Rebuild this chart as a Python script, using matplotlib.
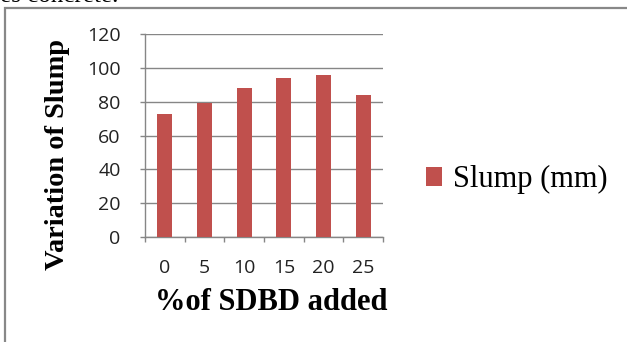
import matplotlib
matplotlib.use("Agg")
import matplotlib.pyplot as plt
import matplotlib.patches as mpatches
import numpy as np

# slump test results
sdbd_pct = ["0", "5", "10", "15", "20", "25"]
slump_mm = [73, 79, 88, 94, 96, 84]
y_ticks = [0, 20, 40, 60, 80, 100, 120]

bar_color = "#C0504D"
grid_color = "#868686"
tick_font = "Open Sans"
label_font = "Liberation Serif"

fig = plt.figure(figsize=(6.27, 3.42), dpi=100)
ax = fig.add_axes([0.2313, 0.3079, 0.3796, 0.5918])

x = np.arange(len(sdbd_pct))
ax.bar(x, slump_mm, width=0.38, color=bar_color, zorder=3, label="Slump (mm)")

ax.set_xlim(-0.5, len(sdbd_pct) - 0.5)
ax.set_ylim(0, 120)
ax.set_yticks(y_ticks)
ax.set_yticklabels([str(v) for v in y_ticks], fontfamily=tick_font, fontsize=14, color="#222222")
ax.yaxis.grid(True, color=grid_color, lw=1.0, zorder=0)

# category labels centred, tick marks on the boundaries
ax.set_xticks(np.arange(-0.5, len(sdbd_pct)), minor=False)
ax.set_xticklabels([])
ax.set_xticks(x, minor=True)
ax.set_xticklabels(sdbd_pct, minor=True, fontfamily=tick_font, fontsize=14, color="#222222")
ax.tick_params(axis="x", which="major", length=3.6, color=grid_color, width=1.0)
ax.tick_params(axis="x", which="minor", length=0, pad=16)
ax.tick_params(axis="y", length=3.6, color=grid_color, width=1.0, pad=14)

for side in ["top", "right"]:
    ax.spines[side].set_visible(False)
for side in ["left", "bottom"]:
    ax.spines[side].set_color(grid_color)
    ax.spines[side].set_linewidth(1.0)

ax.set_xlabel("%of SDBD added", fontfamily=label_font, fontweight="bold", fontsize=22, va="center")
ax.xaxis.set_label_coords(0.53, -0.323)
ax.set_ylabel("Variation of Slump", fontfamily=label_font, fontweight="bold", fontsize=20.4, va="center")
ax.yaxis.set_label_coords(-0.366, 0.404)

leg = fig.legend(loc="center left", bbox_to_anchor=(0.635, 0.474), frameon=False,
                 prop={"family": label_font, "size": 22}, handlelength=0.55, handleheight=0.55,
                 handletextpad=0.35)

# outer chart frame
frame = mpatches.Rectangle((5 / 627, -0.1), 1.0, 1.0 - 8 / 342 + 0.1, transform=fig.transFigure,
                           fill=False, edgecolor="#888888", lw=1.6)
fig.patches.append(frame)

fig.text(0.0, 1.0 - 2.5 / 342, "es concrete.", fontfamily=label_font, fontsize=18, va="baseline", ha="left")

fig.savefig("out.png", dpi=100)
